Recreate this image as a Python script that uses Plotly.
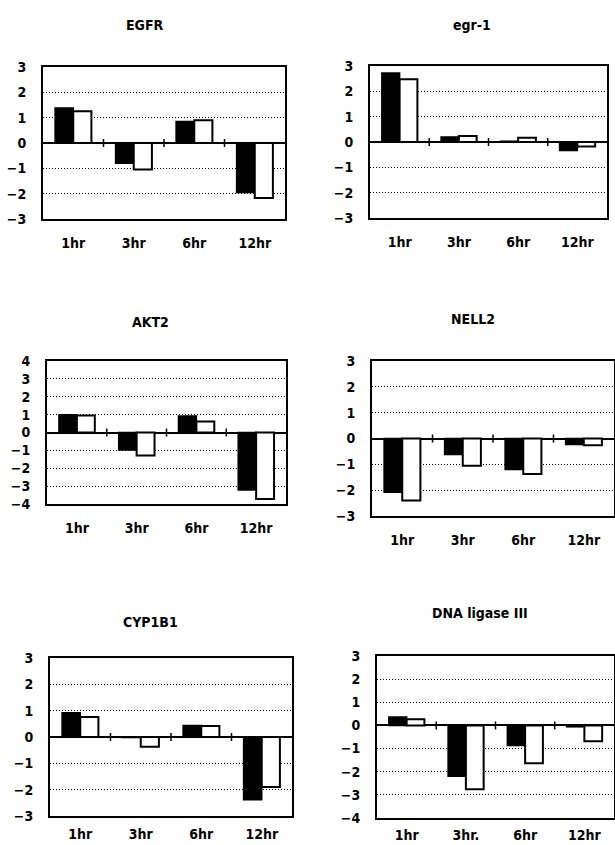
import plotly.graph_objects as go

W, H = 615, 845

hours = ["1hr", "3hr", "6hr", "12hr"]
hours_dna = ["1hr", "3hr.", "6hr", "12hr"]

titles = ["EGFR", "egr-1", "AKT2", "NELL2", "CYP1B1", "DNA ligase III"]

egfr_black = [1.38, -0.80, 0.85, -1.95]
egfr_white = [1.25, -1.05, 0.90, -2.17]
egr1_black = [2.72, 0.20, 0.03, -0.34]
egr1_white = [2.48, 0.24, 0.17, -0.18]
akt2_black = [1.00, -0.98, 0.92, -3.22]
akt2_white = [0.95, -1.28, 0.62, -3.72]
nell2_black = [-2.08, -0.62, -1.20, -0.23]
nell2_white = [-2.40, -1.05, -1.37, -0.26]
cyp1b1_black = [0.92, -0.02, 0.44, -2.38]
cyp1b1_white = [0.76, -0.37, 0.42, -1.90]
dna_black = [0.36, -2.20, -0.87, -0.06]
dna_white = [0.27, -2.76, -1.63, -0.68]

y_ranges = [(-3, 3), (-3, 3), (-4, 4), (-3, 3), (-3, 3), (-4, 3)]

panels = [
    (egfr_black, egfr_white, hours),
    (egr1_black, egr1_white, hours),
    (akt2_black, akt2_white, hours),
    (nell2_black, nell2_white, hours),
    (cyp1b1_black, cyp1b1_white, hours),
    (dna_black, dna_white, hours_dna),
]

# pixel boxes (left, right, top, bottom)
boxes = [
    (43, 285, 67, 219),
    (370, 607, 66, 218),
    (47, 286, 361, 504),
    (372, 614, 361, 516),
    (50, 292, 658, 816),
    (377, 614, 656, 818),
]
title_pos = [(145, 25), (472, 25), (150, 322), (473, 319), (150, 622), (480, 613)]
xlabel_standoff = [10, 10, 10, 10, 4, 3]

FONT = "DejaVu Sans Condensed, Liberation Sans Narrow, Liberation Sans, Arial, sans-serif"

fig = go.Figure()
layout = dict(
    width=W, height=H, margin=dict(l=0, r=0, t=0, b=0, autoexpand=False),
    paper_bgcolor="white", plot_bgcolor="white",
    showlegend=False, barmode="group", bargap=0.4, bargroupgap=0,
    font=dict(family=FONT, color="black", size=13),
    annotations=[], shapes=[],
)

for i, ((blk, wht, cats), (l, r, t, b), (lo, hi)) in enumerate(zip(panels, boxes, y_ranges)):
    n = i + 1
    xa = "x" if n == 1 else f"x{n}"
    ya = "y" if n == 1 else f"y{n}"
    fig.add_trace(go.Bar(x=cats, y=blk, marker=dict(color="black", line=dict(color="black", width=1.5)),
                         xaxis=xa, yaxis=ya, offsetgroup="a", hoverinfo="skip"))
    fig.add_trace(go.Bar(x=cats, y=wht, marker=dict(color="white", line=dict(color="black", width=2)),
                         xaxis=xa, yaxis=ya, offsetgroup="b", hoverinfo="skip"))
    layout[f"xaxis{n}"] = dict(
        domain=[l / W, r / W], anchor=ya, type="category", automargin=False,
        showline=True, mirror=True, linecolor="black", linewidth=2,
        showgrid=False, ticks="", ticklabelstandoff=xlabel_standoff[i],
        tickfont=dict(family=FONT, size=14, color="black", weight="bold"),
        fixedrange=True,
    )
    layout[f"yaxis{n}"] = dict(
        domain=[1 - b / H, 1 - t / H], anchor=xa, range=[lo, hi], automargin=False,
        tickvals=list(range(lo, hi + 1)), ticks="",
        showline=True, mirror=True, linecolor="black", linewidth=2,
        showgrid=True, gridcolor="black", gridwidth=1, griddash="1px,2px",
        zeroline=True, zerolinecolor="black", zerolinewidth=2,
        ticklabelstandoff=12,
        tickfont=dict(family=FONT, size=14, color="black", weight="bold"),
        fixedrange=True,
    )
    for k in range(len(cats) - 1):
        layout["shapes"].append(dict(
            type="line", xref=xa, yref=ya, x0=k + 0.5, x1=k + 0.5,
            ysizemode="pixel", yanchor=0, y0=-4, y1=4,
            line=dict(color="black", width=1.5),
        ))
    tx, ty = title_pos[i]
    layout["annotations"].append(dict(
        text=titles[i], xref="paper", yref="paper", x=tx / W, y=1 - ty / H,
        showarrow=False, xanchor="center", yanchor="middle",
        font=dict(family=FONT, size=14, color="black", weight="bold"),
    ))

fig.update_layout(**layout)
fig.write_html(
    "out.html",
    config={"displayModeBar": False, "staticPlot": True},
    post_script="document.body.style.margin='0';document.body.style.overflow='hidden';",
)
